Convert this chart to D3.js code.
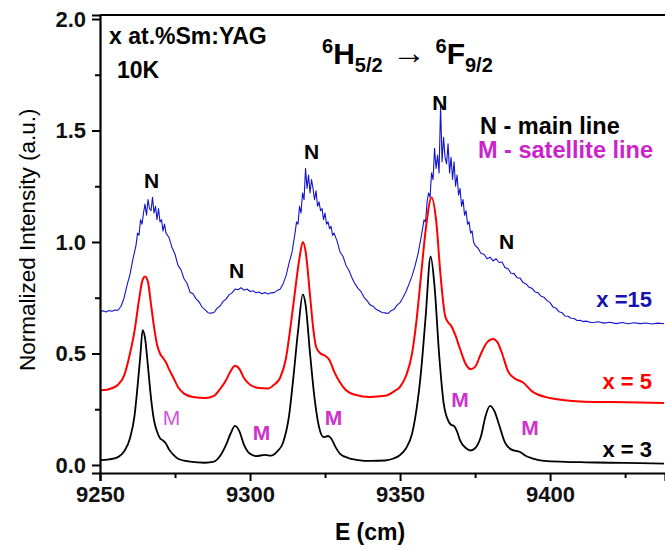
<!DOCTYPE html>
<html>
<head>
<meta charset="utf-8">
<script src="https://cdn.jsdelivr.net/npm/d3@7"></script>
<style>
  body { margin: 0; background: #fff; }
  text { font-family: Arial, "Liberation Sans", sans-serif; }
</style>
</head>
<body>
<div id="chart"></div>
<script>
// Spectra: [energy, normalized intensity]
const black3 = [
  [9250,.022],[9253,.025],[9256,.035],[9258,.06],[9260,.12],[9261.5,.22],[9262.5,.35],[9263.5,.50],[9264.2,.605],
  [9265,.57],[9266,.44],[9267,.30],[9268,.20],[9269,.15],[9270,.12],[9271,.11],[9272,.095],[9273,.07],[9274.5,.045],
  [9276,.028],[9280,.015],[9285,.01],[9288,.015],[9290,.04],[9292,.09],[9293.5,.14],[9295,.175],[9296.5,.15],[9298,.09],
  [9300,.05],[9302,.04],[9305,.045],[9307,.042],[9309,.06],[9311,.10],[9313,.22],[9314.5,.40],[9316,.60],[9317.6,.765],
  [9318.5,.72],[9320,.50],[9321.5,.30],[9323,.17],[9324.5,.125],[9326,.13],[9327,.12],[9328.5,.08],[9330,.05],[9333,.03],
  [9336,.022],[9340,.018],[9345,.02],[9348,.03],[9350,.045],[9352,.075],[9354,.14],[9355.5,.25],[9357,.42],[9358.5,.66],
  [9360.2,.935],[9361.5,.80],[9363,.50],[9364.5,.28],[9366,.20],[9367,.18],[9368,.175],[9369,.15],[9370,.11],[9372,.075],
  [9373.5,.065],[9375,.075],[9377,.13],[9378.5,.22],[9380,.265],[9381.5,.24],[9383,.18],[9385,.10],[9387,.07],[9390,.058],
  [9392,.04],[9394,.03],[9398,.018],[9405,.014],[9412,.012],[9420,.01],[9430,.008],[9438,.006]
];

const red5 = [
  [9250,.335],[9253,.34],[9256,.36],[9258,.40],[9260,.50],[9261.5,.60],[9263,.74],[9264,.82],[9265,.845],[9266,.82],
  [9267,.72],[9268,.62],[9269,.54],[9270,.50],[9271,.48],[9272,.46],[9273,.43],[9274.5,.39],[9276,.35],[9278,.32],
  [9281,.305],[9285,.30],[9288,.31],[9290,.34],[9292,.38],[9293.5,.42],[9295,.445],[9296.5,.43],[9298,.39],[9300,.36],
  [9303,.345],[9306,.343],[9308,.36],[9310,.39],[9312,.48],[9313.5,.62],[9315,.78],[9316.5,.93],[9317.6,1.0],[9318.5,.96],
  [9320,.76],[9321,.62],[9322,.53],[9323.5,.50],[9325,.49],[9326.5,.47],[9328,.42],[9330,.37],[9332,.335],[9335,.315],
  [9340,.305],[9345,.31],[9348,.33],[9350,.35],[9352,.40],[9354,.50],[9355.5,.65],[9357,.85],[9358.5,1.05],[9360.5,1.2],
  [9362,1.10],[9363.5,.85],[9365,.67],[9366,.64],[9367,.625],[9368.5,.58],[9370,.52],[9372,.45],[9373.5,.43],[9375,.44],
  [9377,.50],[9379,.55],[9381,.565],[9382.5,.55],[9384,.50],[9386,.42],[9388,.39],[9391,.37],[9394,.33],[9400,.30],
  [9405,.29],[9410,.285],[9420,.282],[9430,.28],[9438,.278]
];

const blue15 = [
  [9250,.685],[9251,.692],[9252,.686],[9253,.693],[9254,.689],[9255,.695],[9256,.694],[9257,.712],[9258,.748],[9259,.805],
  [9260,.855],[9261,.925],[9262,.985],[9262.5,1.04],[9263,1.03],[9263.5,1.10],[9264,1.08],[9264.5,1.13],[9265,1.17],
  [9265.5,1.12],[9266,1.19],[9266.5,1.15],[9267,1.14],[9267.5,1.20],[9268,1.13],[9268.5,1.16],[9269,1.10],[9269.5,1.15],
  [9270,1.09],[9270.5,1.10],[9271,1.05],[9271.5,1.08],[9272,1.04],[9273,1.02],[9274,.975],[9275,.945],[9276,.895],
  [9277,.875],[9278,.835],[9279,.815],[9280,.775],[9281,.768],[9282,.745],[9283,.732],[9284,.708],[9285,.697],[9286,.683],
  [9287,.681],[9288,.684],[9289,.702],[9290,.713],[9291,.733],[9292,.744],[9293,.763],[9294,.772],[9295,.789],[9296,.786],
  [9297,.795],[9298,.784],[9299,.789],[9300,.778],[9301,.781],[9302,.772],[9303,.776],[9304,.768],[9305,.773],[9306,.767],
  [9307,.772],[9308,.773],[9309,.782],[9310,.788],[9311,.812],[9312,.848],[9313,.905],[9314,.955],[9315,1.04],
  [9315.5,1.09],[9316,1.08],[9316.5,1.16],[9317,1.13],[9317.5,1.22],[9318,1.19],[9318.5,1.33],[9319,1.24],[9319.5,1.30],
  [9320,1.22],[9320.5,1.28],[9321,1.24],[9321.5,1.19],[9322,1.23],[9322.5,1.16],[9323,1.18],[9323.5,1.14],[9324,1.15],
  [9324.5,1.10],[9325,1.13],[9325.5,1.08],[9326,1.09],[9326.5,1.06],[9327,1.07],[9327.5,1.03],[9328,1.04],[9329,1.005],
  [9330,.955],[9331,.935],[9332,.895],[9333,.872],[9334,.838],[9335,.812],[9336,.792],[9337,.777],[9338,.752],[9339,.737],
  [9340,.718],[9341,.712],[9342,.698],[9343,.692],[9344,.684],[9345,.682],[9346,.679],[9347,.692],[9348,.698],[9349,.717],
  [9350,.728],[9351,.752],[9352,.778],[9353,.812],[9354,.848],[9355,.893],[9356,.948],[9357,1.02],[9357.5,1.06],
  [9358,1.10],[9358.5,1.09],[9359,1.18],[9359.5,1.22],[9360,1.20],[9360.5,1.31],[9361,1.28],[9361.5,1.42],[9362,1.33],
  [9362.5,1.39],[9363,1.31],[9363.5,1.61],[9364,1.36],[9364.5,1.47],[9365,1.38],[9365.5,1.35],[9366,1.44],[9366.5,1.31],
  [9367,1.38],[9367.5,1.28],[9368,1.36],[9368.5,1.25],[9369,1.30],[9369.5,1.21],[9370,1.24],[9370.5,1.16],[9371,1.19],
  [9371.5,1.12],[9372,1.14],[9372.5,1.08],[9373,1.09],[9373.5,1.04],[9374,1.05],[9374.5,1.00],[9375,.985],[9376,.972],
  [9377,.948],[9378,.945],[9379,.925],[9380,.932],[9381,.915],[9382,.925],[9383,.908],[9384,.910],[9385,.885],[9386,.880],
  [9387,.860],[9388,.858],[9389,.840],[9390,.838],[9391,.818],[9392,.812],[9393,.797],[9394,.792],[9395,.776],[9396,.772],
  [9397,.757],[9398,.752],[9399,.737],[9400,.728],[9401,.708],[9402,.703],[9403,.687],[9404,.683],[9405,.668],[9406,.667],
  [9407,.658],[9408,.657],[9409,.648],[9410,.649],[9411,.643],[9412,.645],[9414,.638],[9416,.642],[9418,.636],[9420,.640],
  [9422,.634],[9424,.639],[9426,.633],[9428,.638],[9430,.634],[9432,.637],[9434,.632],[9436,.636],[9438,.633]
];

const xTicks = [9250, 9300, 9350, 9400];
const yTicks = [0, 0.5, 1.0, 1.5, 2.0];

// Peak markers: N = main line, M = satellite line
const nLabels = [[9267.2, 1.24], [9295.5, 0.84], [9320.5, 1.37], [9363.3, 1.59], [9385.5, 0.97]];
const mLabels = [[9273.8, 0.18], [9303.8, 0.11], [9327.8, 0.18], [9370, 0.26], [9393.3, 0.135]];

// Set up the dimensions
const width = 665;
const height = 549;
const margin = { top: 15, right: 0, bottom: 76, left: 100 };

const svg = d3.select("#chart")
  .append("svg")
  .attr("width", width)
  .attr("height", height);

const xScale = d3.scaleLinear()
  .domain([9250, 9438.3])
  .range([margin.left, width - margin.right]);

const yScale = d3.scaleLinear()
  .domain([-0.036, 2.018])
  .range([height - margin.bottom, margin.top]);

svg.append("clipPath").attr("id", "plot")
  .append("rect")
  .attr("x", margin.left).attr("y", margin.top)
  .attr("width", width - margin.left).attr("height", height - margin.bottom - margin.top);

// Add the spectra
const line = d3.line()
  .x(d => xScale(d[0]))
  .y(d => yScale(d[1]));

const series = [
  { data: blue15, color: "#1414cc", w: 1.1, curve: d3.curveLinear },
  { data: red5, color: "#ff0000", w: 2, curve: d3.curveMonotoneX },
  { data: black3, color: "#000000", w: 1.8, curve: d3.curveMonotoneX }
];

svg.append("g").attr("clip-path", "url(#plot)")
  .selectAll("path")
  .data(series)
  .join("path")
  .attr("fill", "none")
  .attr("stroke", d => d.color)
  .attr("stroke-width", d => d.w)
  .attr("stroke-linejoin", "round")
  .attr("d", d => line.curve(d.curve)(d.data));

// Axes
svg.append("g")
  .attr("transform", `translate(0,${height - margin.bottom})`)
  .call(d3.axisBottom(xScale).tickValues(xTicks).tickFormat(d3.format("d")).tickSize(8).tickPadding(5));
svg.append("g")
  .attr("transform", `translate(0,${height - margin.bottom})`)
  .call(d3.axisBottom(xScale).tickValues([9275, 9325, 9375, 9425]).tickFormat("").tickSize(5))
  .select(".domain").remove();

svg.append("g")
  .attr("transform", `translate(${margin.left},0)`)
  .call(d3.axisLeft(yScale).tickValues(yTicks).tickFormat(d3.format(".1f")).tickSize(8).tickPadding(6));
svg.append("g")
  .attr("transform", `translate(${margin.left},0)`)
  .call(d3.axisLeft(yScale).tickValues([0.25, 0.75, 1.25, 1.75]).tickFormat("").tickSize(5))
  .select(".domain").remove();

svg.selectAll(".domain").attr("stroke-width", 2.2);
svg.selectAll(".tick line").attr("stroke-width", 2);
svg.selectAll(".tick text")
  .attr("font-size", 22)
  .attr("font-weight", "bold")
  .attr("font-family", "Arial, 'Liberation Sans', sans-serif")
  .attr("fill", "#111");

// Top frame line
svg.append("line")
  .attr("x1", margin.left).attr("x2", width)
  .attr("y1", margin.top).attr("y2", margin.top)
  .attr("stroke", "#000").attr("stroke-width", 2.2);

// Axis titles
svg.append("text")
  .attr("x", xScale(9340)).attr("y", 540)
  .attr("text-anchor", "middle")
  .attr("font-size", 23).attr("font-weight", "bold")
  .text("E (cm)");

svg.append("text")
  .attr("transform", `translate(35,${yScale(1.01)}) rotate(-90)`)
  .attr("text-anchor", "middle")
  .attr("font-size", 22.5)
  .text("Normalized Intensity (a.u.)");

// Sample info
svg.append("text").attr("x", 109).attr("y", 44)
  .attr("font-size", 23).attr("font-weight", "bold")
  .text("x at.%Sm:YAG");
svg.append("text").attr("x", 117).attr("y", 78)
  .attr("font-size", 23).attr("font-weight", "bold")
  .text("10K");

// Transition
const tr = svg.append("text").attr("x", 322).attr("y", 64)
  .attr("font-size", 30).attr("font-weight", "bold");
tr.append("tspan").attr("font-size", 20).attr("dy", -11).text("6");
tr.append("tspan").attr("dy", 11).text("H");
tr.append("tspan").attr("font-size", 20).attr("dy", 8).text("5/2");
tr.append("tspan").attr("dy", -8).attr("font-weight", "normal").attr("font-size", 34).text(" \u2192 ");
tr.append("tspan").attr("font-size", 20).attr("dy", -11).text("6");
tr.append("tspan").attr("dy", 11).text("F");
tr.append("tspan").attr("font-size", 20).attr("dy", 8).text("9/2");

// Legend text
svg.append("text").attr("x", 480).attr("y", 134)
  .attr("font-size", 23.5).attr("font-weight", "bold").attr("fill", "#000")
  .text("N - main line");
svg.append("text").attr("x", 478).attr("y", 158)
  .attr("font-size", 23.5).attr("font-weight", "bold").attr("fill", "#cc22cc")
  .text("M - satellite line");

// Peak labels
svg.selectAll(".nlab")
  .data(nLabels)
  .join("text")
  .attr("class", "nlab")
  .attr("x", d => xScale(d[0])).attr("y", d => yScale(d[1]))
  .attr("text-anchor", "middle")
  .attr("font-size", 21).attr("font-weight", "bold")
  .text("N");

svg.selectAll(".mlab")
  .data(mLabels)
  .join("text")
  .attr("class", "mlab")
  .attr("x", d => xScale(d[0])).attr("y", d => yScale(d[1]))
  .attr("text-anchor", "middle")
  .attr("font-size", 21)
  .attr("font-weight", (d, i) => i === 0 ? "normal" : "bold")
  .attr("fill", (d, i) => i === 0 ? "#cc55dd" : "#cc33cc")
  .text("M");

// Series names
const names = [["x =15", 0.71, "#1414b4"], ["x = 5", 0.34, "#ff0000"], ["x = 3", 0.035, "#000"]];
svg.selectAll(".sname")
  .data(names)
  .join("text")
  .attr("class", "sname")
  .attr("x", 652).attr("y", d => yScale(d[1]))
  .attr("text-anchor", "end")
  .attr("font-size", 22).attr("font-weight", "bold")
  .attr("fill", d => d[2])
  .text(d => d[0]);
</script>
</body>
</html>
